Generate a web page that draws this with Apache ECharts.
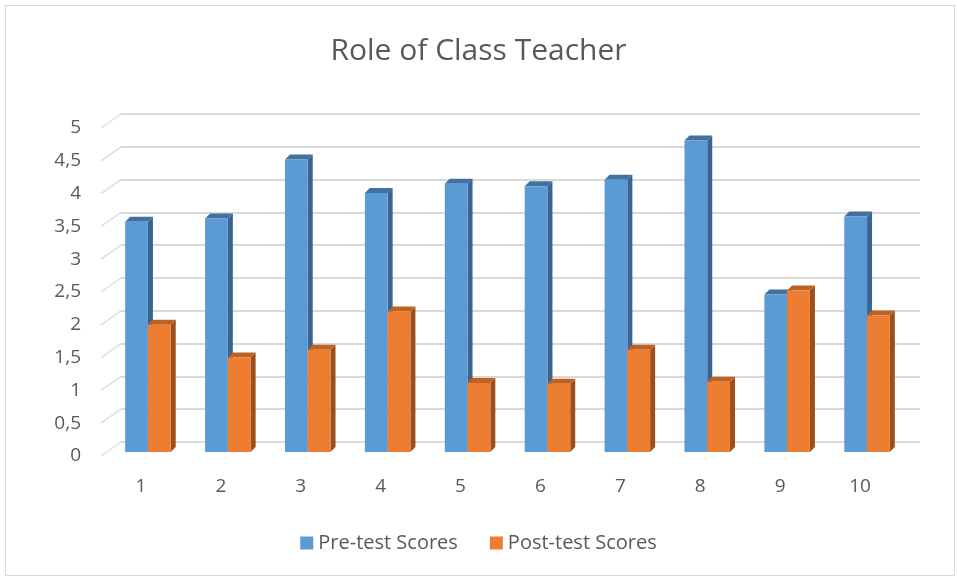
<!DOCTYPE html>
<html>
<head>
<meta charset="utf-8">
<script src="https://cdn.jsdelivr.net/npm/echarts@6/dist/echarts.min.js"></script>
<style>
  html, body { margin: 0; padding: 0; background: #fff; }
  #main { width: 957px; height: 578px; }
</style>
</head>
<body>
<div id="main"></div>
<script>
const categories = ['1', '2', '3', '4', '5', '6', '7', '8', '9', '10'];
const preScores = [3.51, 3.56, 4.46, 3.95, 4.09, 4.05, 4.15, 4.75, 2.40, 3.59];
const postScores = [1.94, 1.44, 1.56, 2.14, 1.05, 1.04, 1.56, 1.07, 2.46, 2.08];
const yTicks = [0, 0.5, 1, 1.5, 2, 2.5, 3, 3.5, 4, 4.5, 5];

const chart = echarts.init(document.getElementById('main'));

// fake 3d: front face + dark side + top
const DEPTH = 5;
const SHIFT_X = 7, SHIFT_Y = -4;
const WALL_X = 20, WALL_Y = -14;

function bar3d(front, side, top, isLeft) {
  return function (params, api) {
    const p = api.coord([api.value(0), api.value(1)]);
    const b = api.coord([api.value(0), 0]);
    const w = api.size([1, 0])[0] * 0.285;
    const cx = p[0] + SHIFT_X;
    const x0 = isLeft ? cx - w : cx;
    const x1 = x0 + w;
    const yt = p[1] + SHIFT_Y;
    const yb = b[1] + SHIFT_Y;
    return {
      type: 'group',
      children: [
        {
          type: 'polygon',
          shape: { points: [[x1, yt], [x1 + DEPTH, yt - DEPTH], [x1 + DEPTH, yb - DEPTH], [x1, yb]] },
          style: { fill: side }
        },
        {
          type: 'polygon',
          shape: { points: [[x0, yt], [x1, yt], [x1 + DEPTH, yt - DEPTH], [x0 + DEPTH, yt - DEPTH]] },
          style: { fill: top }
        },
        {
          type: 'rect',
          shape: { x: x0, y: yt, width: w, height: yb - yt },
          style: { fill: front }
        }
      ]
    };
  };
}

let option = {
  backgroundColor: '#fff',
  color: ['#5b9bd5', '#ed7d31'],
  title: {
    text: 'Role of Class Teacher',
    left: 'center',
    top: 31,
    textStyle: {
      fontFamily: 'Open Sans',
      fontSize: 30,
      fontWeight: 'normal',
      color: '#595959'
    }
  },
  graphic: [{
    type: 'rect',
    shape: { x: 5.5, y: 5.5, width: 949, height: 570 },
    style: { fill: 'none', stroke: '#d9d9d9', lineWidth: 1 },
    silent: true
  }],
  legend: {
    data: ['Pre-test Scores', 'Post-test Scores'],
    bottom: 20,
    left: 'center',
    icon: 'rect',
    itemWidth: 13,
    itemHeight: 13,
    itemGap: 32,
    textStyle: { fontFamily: 'Open Sans', fontSize: 20, color: '#595959' }
  },
  grid: [
    { left: 101, right: 57, top: 128, bottom: 122 },
    { left: 121, right: 37, top: 114, bottom: 136 }
  ],
  xAxis: [
    {
      type: 'category',
      gridIndex: 0,
      data: categories,
      axisLine: { show: false },
      axisTick: { show: false },
      axisLabel: { margin: 21, fontFamily: 'Open Sans', fontSize: 19, color: '#595959' }
    },
    { type: 'value', gridIndex: 1, show: false }
  ],
  yAxis: [
    {
      type: 'value',
      gridIndex: 0,
      min: 0,
      max: 5,
      interval: 0.5,
      axisLine: { show: false },
      axisTick: { show: false },
      splitLine: { show: false },
      axisLabel: {
        margin: 20,
        fontFamily: 'Open Sans',
        fontSize: 19,
        color: '#595959',
        formatter: v => String(v).replace('.', ',')
      }
    },
    {
      type: 'value',
      gridIndex: 1,
      min: 0,
      max: 5,
      interval: 0.5,
      axisLine: { show: false },
      axisTick: { show: false },
      axisLabel: { show: false },
      splitLine: { lineStyle: { color: '#d9d9d9', width: 2 } }
    }
  ],
  series: [
    {
      // left wall edges
      type: 'custom',
      xAxisIndex: 0,
      yAxisIndex: 0,
      silent: true,
      data: yTicks.map(t => [0, t]),
      renderItem: function (params, api) {
        const p = api.coord([0, api.value(1)]);
        const x = params.coordSys.x;
        return {
          type: 'line',
          shape: { x1: x, y1: p[1], x2: x + WALL_X, y2: p[1] + WALL_Y },
          style: { stroke: '#dedede', lineWidth: 1.5 }
        };
      }
    },
    {
      name: 'Pre-test Scores',
      type: 'custom',
      xAxisIndex: 0,
      yAxisIndex: 0,
      itemStyle: { color: '#5b9bd5' },
      data: preScores.map((v, i) => [i, v]),
      renderItem: bar3d('#5b9bd5', '#3b6591', '#41719c', true)
    },
    {
      name: 'Post-test Scores',
      type: 'custom',
      xAxisIndex: 0,
      yAxisIndex: 0,
      itemStyle: { color: '#ed7d31' },
      data: postScores.map((v, i) => [i, v]),
      renderItem: bar3d('#ed7d31', '#9c4f1c', '#c0621f', false)
    }
  ]
};

chart.setOption(option);
</script>
</body>
</html>
